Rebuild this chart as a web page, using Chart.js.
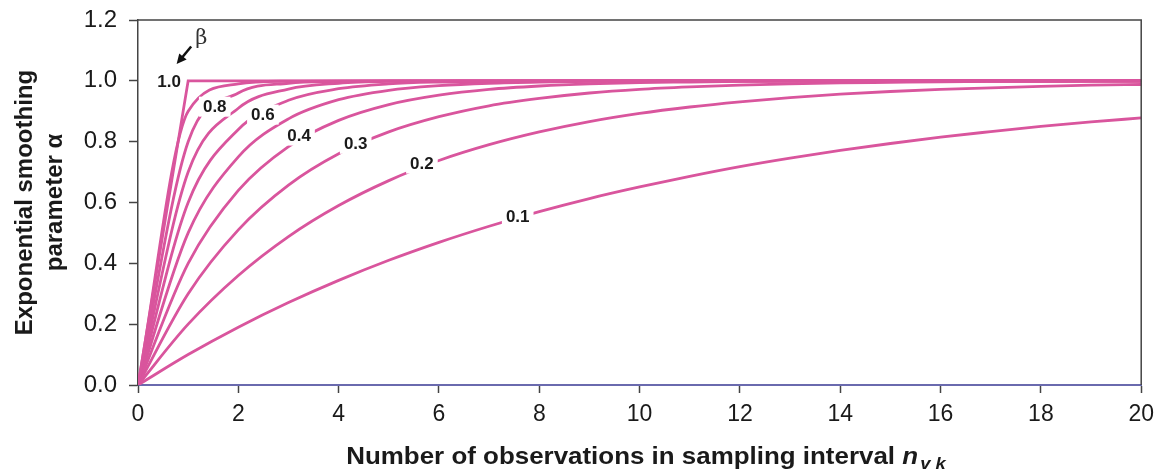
<!DOCTYPE html>
<html>
<head>
<meta charset="utf-8">
<script src="https://cdn.jsdelivr.net/npm/chart.js@4"></script>
<style>
  html, body { margin: 0; padding: 0; background: #fff; }
  #wrap { width: 1162px; height: 471px; }
</style>
</head>
<body>
<div id="wrap"><canvas id="c" width="1162" height="471"></canvas></div>
<script>
// number of observations n (x axis)
var nObs = [0,1,2,3,4,5,6,7,8,9,10,11,12,13,14,15,16,17,18,19,20];

// alpha, one array per beta
var beta10 = [0,1,1,1,1,1,1,1,1,1,1,1,1,1,1,1,1,1,1,1,1];
var beta09 = [0,0.9,0.99,0.999,1,1,1,1,1,1,1,1,1,1,1,1,1,1,1,1,1];
var beta08 = [0,0.8,0.96,0.992,0.998,1,1,1,1,1,1,1,1,1,1,1,1,1,1,1,1];
var beta07 = [0,0.7,0.91,0.973,0.992,0.998,0.999,1,1,1,1,1,1,1,1,1,1,1,1,1,1];
var beta06 = [0,0.6,0.84,0.936,0.974,0.99,0.996,0.998,0.999,1,1,1,1,1,1,1,1,1,1,1,1];
var beta05 = [0,0.5,0.75,0.875,0.938,0.969,0.984,0.992,0.996,0.998,0.999,1,1,1,1,1,1,1,1,1,1];
var beta04 = [0,0.4,0.64,0.784,0.87,0.922,0.953,0.972,0.983,0.99,0.994,0.996,0.998,0.999,0.999,1,1,1,1,1,1];
var beta03 = [0,0.3,0.51,0.657,0.76,0.832,0.882,0.918,0.942,0.96,0.972,0.98,0.986,0.99,0.993,0.995,0.997,0.998,0.998,0.999,0.999];
var beta02 = [0,0.2,0.36,0.488,0.59,0.672,0.738,0.79,0.832,0.866,0.893,0.914,0.931,0.945,0.956,0.965,0.972,0.977,0.982,0.986,0.988];
var beta01 = [0,0.1,0.19,0.271,0.344,0.41,0.469,0.522,0.57,0.613,0.651,0.686,0.718,0.746,0.771,0.794,0.815,0.833,0.85,0.865,0.878];

var curves = [beta10, beta09, beta08, beta07, beta06, beta05, beta04, beta03, beta02, beta01];

// curve labels: text and where it sits (n, alpha)
var labelText = ['1.0', '0.8', '0.6', '0.4', '0.3', '0.2', '0.1'];
var labelAt   = [[0.62, 0.997], [1.53, 0.915], [2.49, 0.889], [3.21, 0.82], [4.34, 0.793], [5.66, 0.728], [7.57, 0.554]];

var PINK = '#d9559d';

var datasets = curves.map(function( arr, k ){
    return {
        data: arr.map(function( v, i ){ return { x: nObs[i], y: v }; }),
        borderColor: PINK,
        borderWidth: 2.8,
        pointRadius: 0,
        fill: false,
        // beta = 1.0 has a sharp corner, the others are smoothed
        cubicInterpolationMode: k == 0 ? 'default' : 'monotone',
        tension: 0
    };
});

var extras = {
    id: 'extras',
    afterDatasetsDraw: function( chart ){
        var ctx = chart.ctx, xs = chart.scales.x, ys = chart.scales.y, a = chart.chartArea;
        ctx.save();

        // curve labels on white patches
        ctx.font = 'bold 17px "Liberation Sans", Arial, sans-serif';
        ctx.textAlign = 'center';
        ctx.textBaseline = 'middle';
        labelText.forEach(function( t, i ){
            var px = xs.getPixelForValue( labelAt[i][0] ),
                py = ys.getPixelForValue( labelAt[i][1] ),
                w  = ctx.measureText( t ).width + 8;
            ctx.fillStyle = '#fff';
            ctx.fillRect( px - w/2, py - 10, w, 20 );
            ctx.fillStyle = '#1a1a1a';
            ctx.fillText( t, px, py + 1 );
        });

        // beta marker with arrow
        ctx.font = '21px "DejaVu Serif", serif';
        ctx.fillStyle = '#333';
        ctx.fillText( '\u03b2', xs.getPixelForValue( 1.26 ), ys.getPixelForValue( 1.14 ) );
        var x1 = xs.getPixelForValue( 1.06 ), y1 = ys.getPixelForValue( 1.113 ),
            x2 = xs.getPixelForValue( 0.77 ), y2 = ys.getPixelForValue( 1.055 ),
            ang = Math.atan2( y2 - y1, x2 - x1 );
        ctx.strokeStyle = '#111';
        ctx.lineWidth = 2.5;
        ctx.beginPath();
        ctx.moveTo( x1, y1 );
        ctx.lineTo( x2 - 6*Math.cos(ang), y2 - 6*Math.sin(ang) );
        ctx.stroke();
        ctx.fillStyle = '#111';
        ctx.beginPath();
        ctx.moveTo( x2, y2 );
        ctx.lineTo( x2 - 11*Math.cos(ang - 0.45), y2 - 11*Math.sin(ang - 0.45) );
        ctx.lineTo( x2 - 11*Math.cos(ang + 0.45), y2 - 11*Math.sin(ang + 0.45) );
        ctx.closePath();
        ctx.fill();

        // top and right frame
        ctx.strokeStyle = '#444';
        ctx.lineWidth = 1.5;
        ctx.beginPath();
        ctx.moveTo( a.left, a.top );
        ctx.lineTo( a.right, a.top );
        ctx.lineTo( a.right, a.bottom );
        ctx.stroke();

        // y title, two lines
        ctx.save();
        ctx.translate( 40, ( a.top + a.bottom ) / 2 );
        ctx.rotate( -Math.PI / 2 );
        ctx.fillStyle = '#1a1a1a';
        ctx.font = 'bold 24px "Liberation Sans", Arial, sans-serif';
        ctx.fillText( 'Exponential smoothing', 0, -15 );
        ctx.fillText( 'parameter \u03b1', 0, 15 );
        ctx.restore();

        // x title with italic n and subscript
        var main = 'Number of observations in sampling interval ';
        ctx.save();
        ctx.textAlign = 'left';
        ctx.textBaseline = 'alphabetic';
        ctx.fillStyle = '#1a1a1a';
        ctx.font = 'bold 24px "Liberation Sans", Arial, sans-serif';
        var wMain = ctx.measureText( main ).width;
        ctx.font = 'bold italic 24px "Liberation Sans", Arial, sans-serif';
        var wN = ctx.measureText( 'n' ).width;
        ctx.font = 'bold italic 17px "Liberation Sans", Arial, sans-serif';
        var wSub = ctx.measureText( 'v k' ).width;
        var sx = 1.08, total = ( wMain + wN + wSub + 2 ) * sx,
            cx = 646 - total / 2, base = 464;
        ctx.translate( cx, base );
        ctx.scale( sx, 1 );
        ctx.font = 'bold 24px "Liberation Sans", Arial, sans-serif';
        ctx.fillText( main, 0, 0 );
        ctx.font = 'bold italic 24px "Liberation Sans", Arial, sans-serif';
        ctx.fillText( 'n', wMain, 0 );
        ctx.font = 'bold italic 17px "Liberation Sans", Arial, sans-serif';
        ctx.fillText( 'v k', wMain + wN + 2, 5 );
        ctx.restore();

        ctx.restore();
    }
};

new Chart( document.getElementById( 'c' ).getContext( '2d' ), {
    type: 'line',
    data: { datasets: datasets },
    options: {
        responsive: false,
        animation: false,
        layout: { padding: { top: 20, right: 20, left: 0, bottom: 0 } },
        plugins: { legend: { display: false }, tooltip: { enabled: false } },
        scales: {
            x: {
                type: 'linear', min: 0, max: 20,
                afterFit: function( s ){ s.height = 86; },
                ticks: { stepSize: 2, color: '#1a1a1a', padding: 8,
                         font: { family: '"Liberation Sans", Arial, sans-serif', size: 23 } },
                grid: { drawOnChartArea: false, tickLength: 8, color: '#444', tickWidth: 1.5 },
                border: { color: '#6a6aae', width: 2 }
            },
            y: {
                min: 0, max: 1.2,
                afterFit: function( s ){ s.width = 138; s.paddingTop = 0; s.paddingBottom = 0; },
                ticks: { stepSize: 0.2, color: '#1a1a1a', padding: 12,
                         font: { family: '"Liberation Sans", Arial, sans-serif', size: 24 },
                         callback: function( v ){ return v.toFixed( 1 ); } },
                grid: { drawOnChartArea: false, tickLength: 9, color: '#444', tickWidth: 1.5 },
                border: { color: '#444', width: 1.5 }
            }
        }
    },
    plugins: [ extras ]
});
</script>
</body>
</html>
